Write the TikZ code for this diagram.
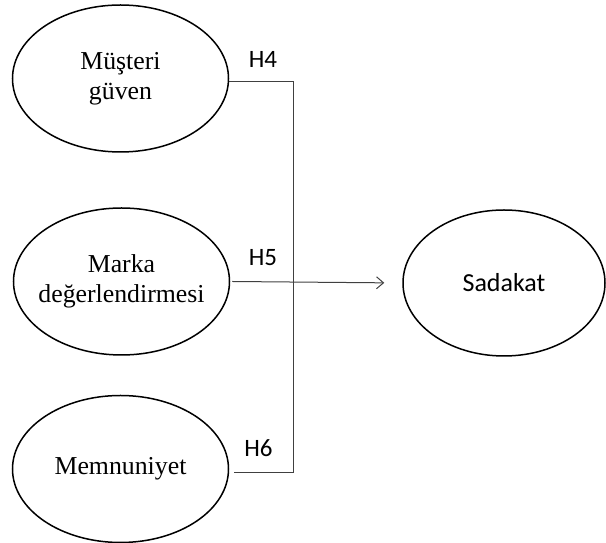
\documentclass[tikz,border=0pt]{standalone}
\usepackage{fontspec}
\setmainfont{Liberation Serif}
\newfontfamily\calfont{Carlito}
\usetikzlibrary{positioning,shapes.geometric,arrows.meta}
\definecolor{LineGray}{HTML}{404040}
\tikzset{
  latnode/.style={draw=black,ellipse,line width=1.5pt,
    minimum width=216pt,minimum height=147pt,inner sep=0pt,
    align=center,font=\fontsize{25.8}{30}\selectfont},
  outnode/.style={latnode,minimum width=202pt,minimum height=146pt,
    font=\calfont\fontsize{26}{30}\selectfont},
  hlabel/.style={font=\calfont\fontsize{25}{28}\selectfont,inner sep=0pt},
  edgeL/.style={line width=1pt,draw=LineGray},
}
\begin{document}
\begin{tikzpicture}[x=1pt,y=1pt]
  \useasboundingbox (0,0) rectangle (606,543);
  \node[latnode] (mustgv) at (120.5,464.5) {Müşteri\\güven};
  \node[latnode,inner xsep=-7pt] (marka) at (121.5,261.5) {Marka\\değerlendirmesi};
  \node[latnode] (memnun) at (120.5,74) {Memnuniyet};
  \node[outnode] (sadakat) at (504,260) {Sadakat};
  \coordinate (j4) at (293,461);
  \coordinate (j6) at (293,70);
  \draw[edgeL] (mustgv.east |- j4) -- (j4) -- (j6) -- ([xshift=4.5pt]memnun.east |- j6);
  \draw[edgeL,-{Straight Barb[length=7pt,width=12pt]},shorten >=18pt]
    ([xshift=2pt]marka.east) -- (sadakat.west);
  \node[hlabel,anchor=base] (h4) at (263,475) {H4};
  \node[hlabel,anchor=base] (h5) at (263,277) {H5};
  \node[hlabel,anchor=base] (h6) at (258.5,86) {H6};
\end{tikzpicture}
\end{document}
